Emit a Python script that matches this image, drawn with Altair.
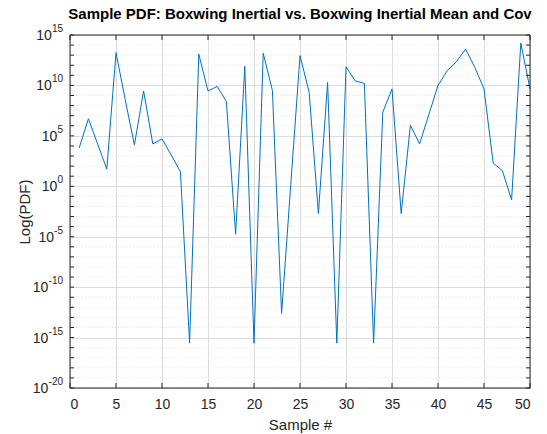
import altair as alt
import pandas as pd

# ---- data ----
samples = list(range(1, 51))
log10_pdf = [3.8, 6.7, 4.2, 1.7, 13.25, 8.6, 4.1, 9.45, 4.2, 4.7,
             3.1, 1.45, -15.55, 13.1, 9.45, 9.9, 8.4, -4.75, 11.9, -15.55,
             13.2, 9.5, -12.6, 0.2, 12.95, 9.3, -2.7, 10.3, -15.55, 11.85,
             10.45, 10.2, -15.55, 7.35, 9.65, -2.7, 6.05, 4.2, 7.1, 10.0,
             11.45, 12.35, 13.6, 11.8, 9.65, 2.3, 1.55, -1.35, 14.2, 9.65]
x_ticks = list(range(0, 55, 5))
y_decades = list(range(-20, 16))
y_major = list(range(-20, 16, 5))
title_text = "Sample PDF: Boxwing Inertial vs. Boxwing Inertial Mean and Cov"

W, H = 460, 353
INK = "#262626"

df = pd.DataFrame({"sample": samples, "pdf": [10.0 ** v for v in log10_pdf]})
dec_df = pd.DataFrame({"pdf": [10.0 ** e for e in y_decades],
                       "minor": [e % 5 != 0 for e in y_decades]})
lab_df = pd.DataFrame({"pdf": [10.0 ** e for e in y_major],
                       "exp": [str(e) for e in y_major]})
xt_df = pd.DataFrame({"sample": x_ticks})

xscale = alt.Scale(domain=[0, 50], nice=False, zero=False)
yscale = alt.Scale(type="log", domain=[1e-20, 1e15], nice=False)

x_axis = alt.Axis(values=x_ticks, title="Sample #", grid=True,
                  gridColor="#dcdcdc", ticks=False, domain=False,
                  labelFontSize=14, labelColor=INK, labelPadding=9,
                  titleFontSize=15, titleFontWeight="normal",
                  titleColor=INK, titlePadding=6)
y_axis = alt.Axis(values=[10.0 ** e for e in y_major], title="Log(PDF)",
                  grid=True, gridColor="#dcdcdc", ticks=False,
                  domain=False, labels=False,
                  titleFontSize=15, titleFontWeight="normal",
                  titleColor=INK, titlePadding=38)

Y = alt.Y("pdf:Q", scale=yscale, axis=y_axis)
X = alt.X("sample:Q", scale=xscale, axis=x_axis)

minor_grid = alt.Chart(dec_df).transform_filter("datum.minor").mark_rule(
    color="#e2e2e2", strokeDash=[1, 2], strokeWidth=1
).encode(y=Y, x=alt.value(0), x2=alt.value(W))

line = alt.Chart(df).mark_line(color="#0072BD", strokeWidth=1).encode(x=X, y=Y)

# y tick labels "10" with a raised exponent (MATLAB style)
exp_lab = alt.Chart(lab_df).mark_text(
    align="right", baseline="middle", fontSize=10, color=INK, dy=-6
).encode(y=Y, x=alt.value(-7), text="exp:N")

base_lab = alt.Chart(lab_df).transform_calculate(
    px="-7 - (length(datum.exp) - (indexof(datum.exp, '-') >= 0 ? 1 : 0)) * 5.6"
       " - (indexof(datum.exp, '-') >= 0 ? 3.4 : 0)"
).mark_text(
    align="right", baseline="middle", fontSize=14, color=INK, dy=1
).encode(y=Y, x=alt.X("px:Q", scale=None), text=alt.value("10"))

title = alt.Chart(pd.DataFrame({"t": [title_text]})).mark_text(
    align="center", baseline="alphabetic", fontSize=15, fontWeight="bold",
    color="black"
).encode(x=alt.value(W / 2), y=alt.value(-16), text="t:N")

# MATLAB-style inward ticks on all four sides, and the axes box
ytick_l = alt.Chart(dec_df).mark_rule(stroke=INK, strokeWidth=1, opacity=1).encode(
    y=Y, x=alt.value(0), x2=alt.value(4))
ytick_r = alt.Chart(dec_df).mark_rule(stroke=INK, strokeWidth=1, opacity=1).encode(
    y=Y, x=alt.value(W), x2=alt.value(W - 4))
xtick_b = alt.Chart(xt_df).mark_rule(stroke=INK, strokeWidth=1, opacity=1).encode(
    x=X, y=alt.value(H), y2=alt.value(H - 5))
xtick_t = alt.Chart(xt_df).mark_rule(stroke=INK, strokeWidth=1, opacity=1).encode(
    x=X, y=alt.value(0), y2=alt.value(5))
frame = alt.Chart(pd.DataFrame({"t": [title_text]})).mark_rect(
    filled=False, stroke=INK, strokeWidth=1, fillOpacity=0, opacity=1
).encode(x=alt.value(0), x2=alt.value(W), y=alt.value(0), y2=alt.value(H))

chart = alt.layer(minor_grid, line, exp_lab, base_lab, title,
                  ytick_l, ytick_r, xtick_b, xtick_t, frame).properties(
    width=W, height=H,
    autosize=alt.AutoSizeParams(type="none"),
    padding={"left": 70, "top": 35, "right": 17, "bottom": 46},
    background="white",
).configure(font="Liberation Sans").configure_view(stroke=INK, strokeWidth=1)

chart.save("out.html", embed_options={"renderer": "svg", "actions": False})
